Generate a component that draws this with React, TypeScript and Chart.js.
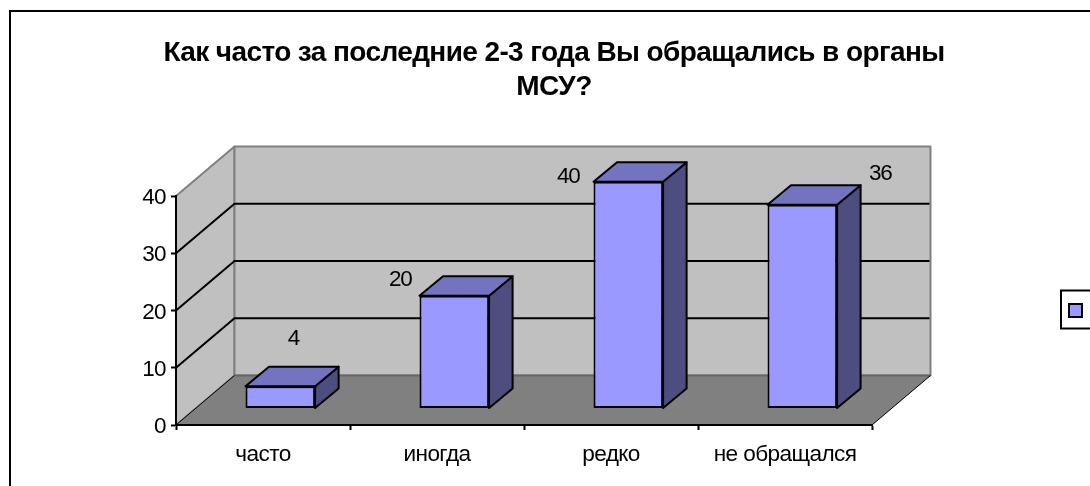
import React, { useEffect, useRef } from "react";
import { Chart, registerables } from "chart.js";

Chart.register(...registerables);

const categories = ["часто", "иногда", "редко", "не обращался"];
const values = [3.9, 19.7, 39.6, 35.6];
const yTicks = [0, 10, 20, 30, 40];
const titleLines = ["Как часто за последние 2-3 года Вы обращались в органы", "МСУ?"];

const FONT = "'Liberation Sans', Arial, sans-serif";
const WALL = { dx: 58.5, dy: -49.5 };
const BAR_SHIFT = { dx: 17.3, dy: -16.5 };
const BAR_DEPTH = { dx: 23.5, dy: -19.5 };
const LABEL_OFFSETS = [
  [13, -47],
  [-54, -16],
  [-60, -5],
  [78, -31],
];

function poly(ctx: any, pts: number[][], fill: string | null, stroke: string | null, lw = 2) {
  ctx.beginPath();
  pts.forEach((p, i) => (i ? ctx.lineTo(p[0], p[1]) : ctx.moveTo(p[0], p[1])));
  ctx.closePath();
  if (fill) {
    ctx.fillStyle = fill;
    ctx.fill();
  }
  if (stroke) {
    ctx.strokeStyle = stroke;
    ctx.lineWidth = lw;
    ctx.lineJoin = "round";
    ctx.stroke();
  }
}

const scene3d = {
  id: "scene3d",
  beforeDraw(chart: any) {
    const { ctx, chartArea: a, scales } = chart;
    const y = scales.y;
    const { dx, dy } = WALL;
    (ctx as any).letterSpacing = "-0.6px";
    ctx.save();
    ctx.fillStyle = "#fff";
    ctx.fillRect(0, 0, chart.width, chart.height);
    // outer frame (runs past the right and bottom edges of the picture)
    ctx.strokeStyle = "#000";
    ctx.lineWidth = 2;
    ctx.strokeRect(10, 11, chart.width + 20, chart.height + 20);

    const y0 = y.getPixelForValue(0);
    const yTop = y.getPixelForValue(40);
    // side wall, back wall, floor
    poly(ctx, [[a.left, yTop], [a.left + dx, yTop + dy], [a.left + dx, y0 + dy], [a.left, y0]], "#c0c0c0", "#808080");
    poly(ctx, [[a.left + dx, yTop + dy], [a.right + dx, yTop + dy], [a.right + dx, y0 + dy], [a.left + dx, y0 + dy]], "#c0c0c0", "#808080");
    // gridlines
    ctx.strokeStyle = "#000";
    ctx.lineWidth = 2;
    yTicks.slice(1, -1).forEach((t) => {
      const py = y.getPixelForValue(t);
      ctx.beginPath();
      ctx.moveTo(a.left, py);
      ctx.lineTo(a.left + dx, py + dy);
      ctx.lineTo(a.right + dx - 1, py + dy);
      ctx.stroke();
    });
    poly(ctx, [[a.left, y0], [a.left + dx, y0 + dy], [a.right + dx, y0 + dy], [a.right, y0]], "#808080", null);
    ctx.strokeStyle = "#666";
    ctx.lineWidth = 2;
    ctx.beginPath();
    ctx.moveTo(a.left + dx, y0 + dy);
    ctx.lineTo(a.right + dx, y0 + dy);
    ctx.stroke();
    ctx.strokeStyle = "#000";
    ctx.lineWidth = 1;
    ctx.beginPath();
    ctx.moveTo(a.right, y0);
    ctx.lineTo(a.right + dx, y0 + dy);
    ctx.moveTo(a.left, y0);
    ctx.lineTo(a.left + dx, y0 + dy);
    ctx.stroke();
    ctx.restore();
  },
  beforeDatasetDraw(chart: any, args: any) {
    const ctx = chart.ctx;
    ctx.save();
    ctx.translate(BAR_SHIFT.dx, BAR_SHIFT.dy);
    const { dx, dy } = BAR_DEPTH;
    args.meta.data.forEach((el: any) => {
      const l = el.x - el.width / 2;
      const r = el.x + el.width / 2;
      const t = el.y;
      const b = el.base;
      poly(ctx, [[r, t], [r + dx, t + dy], [r + dx, b + dy], [r, b]], "#4d4d80", "#000");
      poly(ctx, [[l, t], [l + dx, t + dy], [r + dx, t + dy], [r, t]], "#7373bf", "#000");
    });
  },
  afterDatasetDraw(chart: any) {
    chart.ctx.restore();
  },
  afterDraw(chart: any) {
    const ctx = chart.ctx;
    const meta = chart.getDatasetMeta(0);
    ctx.save();
    ctx.fillStyle = "#000";
    ctx.font = `22.5px ${FONT}`;
    (ctx as any).letterSpacing = "-1.2px";
    ctx.textAlign = "center";
    ctx.textBaseline = "middle";
    meta.data.forEach((el: any, i: number) => {
      ctx.fillText(
        String(Math.round(values[i])),
        el.x + BAR_SHIFT.dx + LABEL_OFFSETS[i][0],
        el.y + BAR_SHIFT.dy + LABEL_OFFSETS[i][1]
      );
    });
    // legend frame
    const lg = chart.legend;
    const cy = (chart.chartArea.top + chart.chartArea.bottom) / 2 - 1;
    ctx.strokeStyle = "#000";
    ctx.lineWidth = 2;
    ctx.strokeRect(lg.left, cy - 19, chart.width, 38);
    ctx.restore();
  },
};

export default function App() {
  const ref = useRef<HTMLCanvasElement>(null);
  useEffect(() => {
    const chart = new Chart(ref.current as HTMLCanvasElement, {
      type: "bar",
      data: {
        labels: categories,
        datasets: [
          {
            label: "",
            data: values,
            yAxisID: "y",
            backgroundColor: "#9999ff",
            borderColor: "#000",
            borderWidth: 2,
            borderSkipped: false,
            barPercentage: 0.4,
            categoryPercentage: 1,
            clip: false,
          } as any,
        ],
      },
      options: {
        responsive: false,
        animation: false,
        events: [],
        layout: { padding: { left: 14, right: -4, top: 0, bottom: 0 } },
        plugins: {
          tooltip: { enabled: false },
          title: {
            display: true,
            text: titleLines,
            color: "#000",
            font: { family: FONT, size: 28, weight: "bold", lineHeight: 34 / 28 },
            padding: { top: 36, bottom: 92 },
          },
          legend: {
            display: true,
            position: "right",
            fullSize: false,
            labels: { boxWidth: 13, boxHeight: 13, padding: 8, font: { size: 4 }, color: "#000" },
          },
        },
        scales: {
          x: {
            grid: { drawOnChartArea: false, tickLength: 5, tickColor: "#000", tickWidth: 2 },
            border: { color: "#000", width: 2 },
            ticks: { color: "#000", font: { family: FONT, size: 22.6 }, padding: 11, maxRotation: 0 },
            afterFit: (s: any) => {
              s.height = 61;
            },
          },
          y: {
            min: 0,
            max: 40,
            grid: { drawOnChartArea: false, tickLength: 5, tickColor: "#000", tickWidth: 2 },
            border: { color: "#000", width: 2 },
            ticks: { stepSize: 10, color: "#000", font: { family: FONT, size: 22.5 }, padding: 5, labelOffset: 2 },
            afterFit: (s: any) => {
              s.width = 162;
            },
          },
          y2: {
            position: "right",
            min: 0,
            max: 40,
            grid: { display: false },
            border: { display: false },
            ticks: { display: false },
            afterFit: (s: any) => {
              s.width = 189;
            },
          },
        },
      } as any,
      plugins: [scene3d],
    });
    return () => chart.destroy();
  }, []);
  return (
    <canvas
      ref={ref}
      width={1090}
      height={486}
      style={{ position: "fixed", left: 0, top: 0, display: "block" }}
    />
  );
}
